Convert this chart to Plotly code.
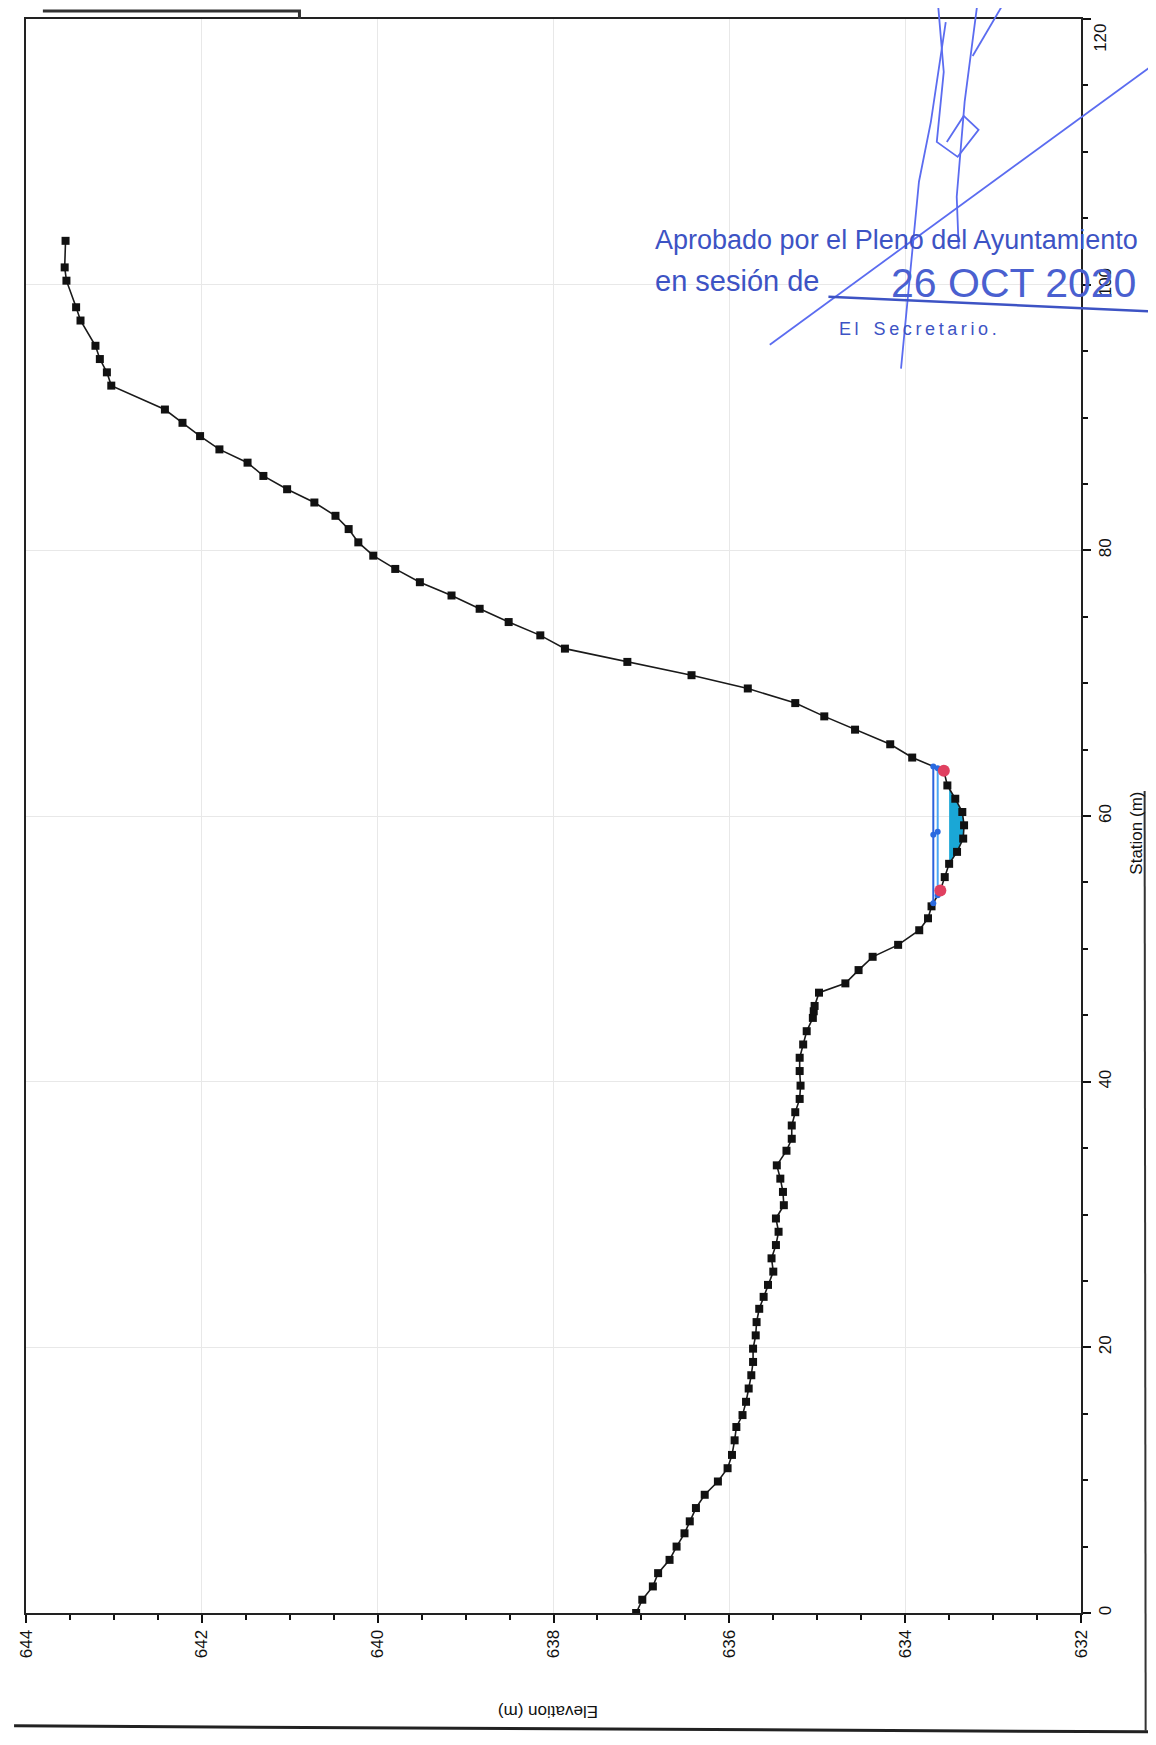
import numpy as np
import plotly.graph_objects as go

# Ground profile (station m, elevation m)
station = [0, 1, 2, 3, 4, 5, 6, 6.9, 7.9, 8.9, 9.9, 10.9, 11.9, 13, 14, 14.9, 15.9, 16.9,
           17.9, 18.9, 19.9, 20.9, 21.9, 22.9, 23.8, 24.7, 25.7, 26.7, 27.7, 28.7, 29.7,
           30.7, 31.7, 32.7, 33.7, 34.8, 35.7, 36.7, 37.7, 38.7, 39.7, 40.8, 41.8, 42.8,
           43.8, 44.8, 45.3, 45.7, 46.7, 47.4, 48.4, 49.4, 50.3, 51.4, 52.3, 53.2, 54.4,
           55.4, 56.4, 57.3, 58.3, 59.3, 60.3, 61.3, 62.3, 63.4, 64.4, 65.4, 66.5, 67.5,
           68.5, 69.6, 70.6, 71.6, 72.6, 73.6, 74.6, 75.6, 76.6, 77.6, 78.6, 79.6, 80.6,
           81.6, 82.6, 83.6, 84.6, 85.6, 86.6, 87.6, 88.6, 89.6, 90.6, 92.4, 93.4, 94.4,
           95.4, 97.3, 98.3, 100.3, 101.3, 103.3]
elevation = [637.06, 636.99, 636.87, 636.81, 636.68, 636.60, 636.51, 636.45, 636.38, 636.28,
             636.13, 636.02, 635.97, 635.94, 635.92, 635.85, 635.81, 635.78, 635.75, 635.73,
             635.73, 635.70, 635.69, 635.66, 635.61, 635.56, 635.50, 635.52, 635.47, 635.44,
             635.47, 635.38, 635.39, 635.42, 635.46, 635.35, 635.29, 635.29, 635.25, 635.20,
             635.19, 635.20, 635.20, 635.16, 635.12, 635.05, 635.04, 635.03, 634.98, 634.68,
             634.53, 634.37, 634.08, 633.84, 633.74, 633.70, 633.60, 633.55, 633.50, 633.41,
             633.34, 633.33, 633.35, 633.43, 633.52, 633.56, 633.92, 634.17, 634.57, 634.92,
             635.25, 635.79, 636.43, 637.16, 637.87, 638.15, 638.51, 638.84, 639.16, 639.52,
             639.80, 640.05, 640.22, 640.33, 640.48, 640.72, 641.03, 641.30, 641.48, 641.80,
             642.02, 642.22, 642.42, 643.03, 643.08, 643.16, 643.21, 643.38, 643.43, 643.54,
             643.56, 643.55]

bank_station = [54.4, 63.4]
ws_level = 633.63      # water surface
eg_level = 633.68      # energy grade
fill_level = 633.50    # water fill

elev_ticks = [644, 642, 640, 638, 636, 634, 632]
station_ticks = [0, 20, 40, 60, 80, 100, 120]
station_labels = ["0", "20", "40", "60", "80", "100", ""]   # 120 is drawn lower, see below

s = np.array(station)
e = np.array(elevation)


def crossing(level):
    """Stations where the ground crosses a level inside the channel."""
    below = np.where(e < level)[0]
    i0, i1 = below[0], below[-1]
    sl = s[i0 - 1] + (level - e[i0 - 1]) / (e[i0] - e[i0 - 1]) * (s[i0] - s[i0 - 1])
    sr = s[i1] + (level - e[i1]) / (e[i1 + 1] - e[i1]) * (s[i1 + 1] - s[i1])
    return sl, sr, i0, i1


fig = go.Figure()

# water fill
sl, sr, i0, i1 = crossing(fill_level)
fig.add_trace(go.Scatter(
    x=[fill_level] + list(e[i0:i1 + 1]) + [fill_level, fill_level],
    y=[sl] + list(s[i0:i1 + 1]) + [sr, sl],
    fill="toself", fillcolor="#1aa7d6", mode="lines", line=dict(width=0),
    showlegend=False, hoverinfo="skip"))

# ground
fig.add_trace(go.Scatter(
    x=elevation, y=station, mode="lines+markers",
    line=dict(color="#1a1a1a", width=1.6),
    marker=dict(symbol="square", size=8, color="#111111"),
    showlegend=False))

# water surface / energy lines
for level, col in [(eg_level, "#2b63dc"), (ws_level, "#4aa6f4")]:
    a, b, _, _ = crossing(level)
    fig.add_trace(go.Scatter(
        x=[level, level, level], y=[a, (a + b) / 2, b], mode="lines+markers",
        line=dict(color=col, width=2), marker=dict(size=6, color="#2a6ae0"),
        showlegend=False))

# bank stations
fig.add_trace(go.Scatter(
    x=list(np.interp(bank_station, s, e)), y=bank_station, mode="markers",
    marker=dict(size=12, color="#e04060"), showlegend=False))

# page offset of the plot div (browser body margin)
OFF = 8
W, H = 1140, 1729
L, R, T, B = 12, 67, 9, 124
pw, ph = W - L - R, H - T - B


def px(x, y):
    # page pixel -> paper coordinates
    return (x - OFF - L) / pw, (H - B - (y - OFF)) / ph


def path(points):
    pts = [px(x, y) for x, y in points]
    return "M " + " L ".join(f"{a:.4f},{b:.4f}" for a, b in pts)


pen = "#5b6cf0"
stamp = "#3d53c4"
shapes = []
strokes = [
    [(937, 0), (943, 70), (936, 140), (957, 155), (978, 128), (963, 114), (946, 140)],
    [(977, 0), (964, 100), (956, 195), (958, 247)],
    [(1004, 0), (972, 54)],
    [(945, 20), (930, 120), (918, 180), (900, 367)],
    [(768, 343), (1156, 61)],
]
for st in strokes:
    shapes.append(dict(type="path", xref="paper", yref="paper", path=path(st),
                       line=dict(color=pen, width=1.8)))
shapes.append(dict(type="path", xref="paper", yref="paper",
                   path=path([(827, 295), (1156, 310)]), line=dict(color=stamp, width=2.5)))
# page frame fragments
shapes.append(dict(type="path", xref="paper", yref="paper",
                   path=path([(37, 9), (295, 9), (295, 17)]), line=dict(color="#333", width=3)))
shapes.append(dict(type="path", xref="paper", yref="paper",
                   path=path([(8, 1726), (1156, 1732)]), line=dict(color="#222", width=3)))
shapes.append(dict(type="path", xref="paper", yref="paper",
                   path=path([(1145, 790), (1146, 1731)]), line=dict(color="#333", width=2)))

font_ax = "Liberation Sans, Arial, sans-serif"


def note(text, x, y, size, color, angle=0, xanchor="center"):
    ax, ay = px(x, y)
    return dict(text=text, x=ax, y=ay, xref="paper", yref="paper", showarrow=False,
                textangle=angle, xanchor=xanchor, yanchor="middle",
                font=dict(size=size, color=color, family=font_ax))


ts = "\u2009"
annotations = [
    note("Elevation (m)", 545, 1711, 17, "#111", angle=180),
    note("Station (m)", 1137, 832, 17, "#111", angle=-90),
    note("120", 1101, 36, 17, "#111", angle=-90),
    note("Aprobado por el Pleno del Ayuntamiento", 651, 238, 27, stamp, xanchor="left"),
    note("en sesión de", 651, 279, 29, stamp, xanchor="left"),
    note("26 OCT 2020", 888, 281, 41, "#4a60d0", xanchor="left"),
    note("E" + ts + "l\u00a0\u00a0 " + ts.join("Secretario."), 836, 327, 18, stamp,
         xanchor="left"),
]

fig.update_layout(
    width=W, height=H,
    margin=dict(l=L, r=R, t=T, b=B),
    paper_bgcolor="white", plot_bgcolor="white",
    font=dict(family=font_ax, size=17, color="#111"),
    shapes=shapes, annotations=annotations,
    xaxis=dict(range=[644, 632], tickvals=elev_ticks, ticks="outside", ticklen=8,
               tickwidth=1.5, tickcolor="#111", tickangle=-90,
               showline=True, linecolor="#222", linewidth=2, mirror=True,
               showgrid=True, gridcolor="#e8e8e8", gridwidth=1, zeroline=False,
               minor=dict(dtick=0.5, ticks="outside", ticklen=5, tickcolor="#111",
                          showgrid=False)),
    yaxis=dict(range=[0, 120], tickvals=station_ticks, ticktext=station_labels,
               side="right", ticks="outside",
               ticklen=8, tickwidth=1.5, tickcolor="#111", tickangle=-90,
               showline=True, linecolor="#222", linewidth=2, mirror=True,
               showgrid=True, gridcolor="#e8e8e8", gridwidth=1, zeroline=False,
               minor=dict(dtick=5, ticks="outside", ticklen=5, tickcolor="#111",
                          showgrid=False)),
)

fig.write_html("out.html")
